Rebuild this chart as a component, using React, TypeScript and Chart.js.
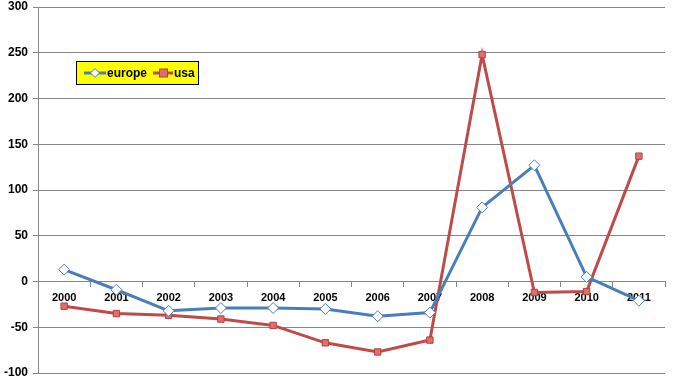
import React, { useEffect, useRef } from "react";
import { Chart, registerables } from "chart.js";

Chart.register(...registerables);

const categories = ["2000", "2001", "2002", "2003", "2004", "2005", "2006", "2007", "2008", "2009", "2010", "2011"];
const europe = [13, -9, -32, -29, -29, -30, -38, -34, 81, 127, 5, -21];
const usa = [-27, -35, -37, -41, -48, -67, -77, -64, 248, -12, -11, 137];
const yTicks = [-100, -50, 0, 50, 100, 150, 200, 250, 300];

const FONT = "'Liberation Sans', Arial, sans-serif";

const legendPlugin = {
  id: "boxLegend",
  afterDraw(chart: any) {
    const ctx = chart.ctx;
    const x = 76, y = 61, w = 123, h = 24;
    ctx.save();
    ctx.fillStyle = "#FFFF00";
    ctx.fillRect(x, y, w, h);
    ctx.strokeStyle = "#000000";
    ctx.lineWidth = 1;
    ctx.strokeRect(x + 0.5, y + 0.5, w - 1, h - 1);
    const cy = y + h / 2;
    ctx.strokeStyle = "#4A7EBB";
    ctx.lineWidth = 3;
    ctx.beginPath();
    ctx.moveTo(84, cy);
    ctx.lineTo(106, cy);
    ctx.stroke();
    ctx.fillStyle = "#FFFFFF";
    ctx.lineWidth = 1;
    ctx.beginPath();
    ctx.moveTo(95, cy - 4.5);
    ctx.lineTo(99.5, cy);
    ctx.lineTo(95, cy + 4.5);
    ctx.lineTo(90.5, cy);
    ctx.closePath();
    ctx.fill();
    ctx.stroke();
    ctx.fillStyle = "#000000";
    ctx.font = "bold 12px " + FONT;
    ctx.textBaseline = "middle";
    ctx.textAlign = "left";
    ctx.fillText(chart.data.datasets[0].label, 107, cy + 1);
    ctx.strokeStyle = "#BE4B48";
    ctx.lineWidth = 3;
    ctx.beginPath();
    ctx.moveTo(153, cy);
    ctx.lineTo(173, cy);
    ctx.stroke();
    ctx.fillStyle = "#E06F6C";
    ctx.strokeStyle = "#B3403D";
    ctx.lineWidth = 1;
    ctx.fillRect(159.5, cy - 4, 8, 8);
    ctx.strokeRect(159.5, cy - 4, 8, 8);
    ctx.fillStyle = "#000000";
    ctx.fillText(chart.data.datasets[1].label, 174, cy + 1);
    ctx.restore();
  },
};

export default function App() {
  const ref = useRef<HTMLCanvasElement>(null);
  useEffect(() => {
    if (!ref.current) return;
    const chart = new Chart(ref.current, {
      type: "line",
      data: {
        labels: categories,
        datasets: [
          {
            label: "europe",
            data: europe,
            borderColor: "#4A7EBB",
            borderWidth: 3,
            pointStyle: "rectRot",
            pointRadius: 5.5,
            pointBackgroundColor: "#FFFFFF",
            pointBorderColor: "#4A7EBB",
            pointBorderWidth: 1,
            tension: 0,
          },
          {
            label: "usa",
            data: usa,
            borderColor: "#BE4B48",
            borderWidth: 3,
            pointStyle: "rect",
            pointRadius: 4.5,
            pointBackgroundColor: "#E06F6C",
            pointBorderColor: "#B3403D",
            pointBorderWidth: 1,
            tension: 0,
          },
        ],
      },
      options: {
        responsive: false,
        animation: false,
        layout: { padding: { top: 7, right: 9, bottom: 7, left: 0 } },
        plugins: { legend: { display: false }, tooltip: { enabled: false } },
        scales: {
          x: {
            type: "category",
            position: { y: 0 } as any,
            offset: true,
            afterFit: (scale: any) => {
              scale.paddingTop = 0;
              scale.paddingBottom = 0;
            },
            grid: {
              display: true,
              drawOnChartArea: false,
              drawTicks: true,
              tickLength: 5,
              offset: true,
              color: "#868686",
            },
            border: { display: true, color: "#868686", width: 1 },
            ticks: {
              color: "#000000",
              font: { family: FONT, size: 11, weight: "bold" },
              maxRotation: 0,
              autoSkip: false,
              padding: 5,
            },
          },
          y: {
            min: -100,
            max: 300,
            afterBuildTicks: (scale: any) => {
              scale.ticks = yTicks.map((v) => ({ value: v }));
            },
            afterFit: (scale: any) => {
              scale.width = 38;
              scale.paddingTop = 0;
              scale.paddingBottom = 0;
            },
            grid: {
              color: "#868686",
              drawTicks: true,
              tickLength: 5,
            },
            border: { display: true, color: "#868686", width: 1 },
            ticks: {
              color: "#000000",
              font: { family: FONT, size: 12, weight: "bold" },
              padding: 5,
            },
          },
        },
      },
      plugins: [legendPlugin],
    });
    return () => chart.destroy();
  }, []);
  return (
    <div style={{ position: "fixed", left: 0, top: 0, width: 674, height: 380, background: "#fff" }}>
      <canvas ref={ref} width={674} height={380} style={{ width: 674, height: 380 }} />
    </div>
  );
}
